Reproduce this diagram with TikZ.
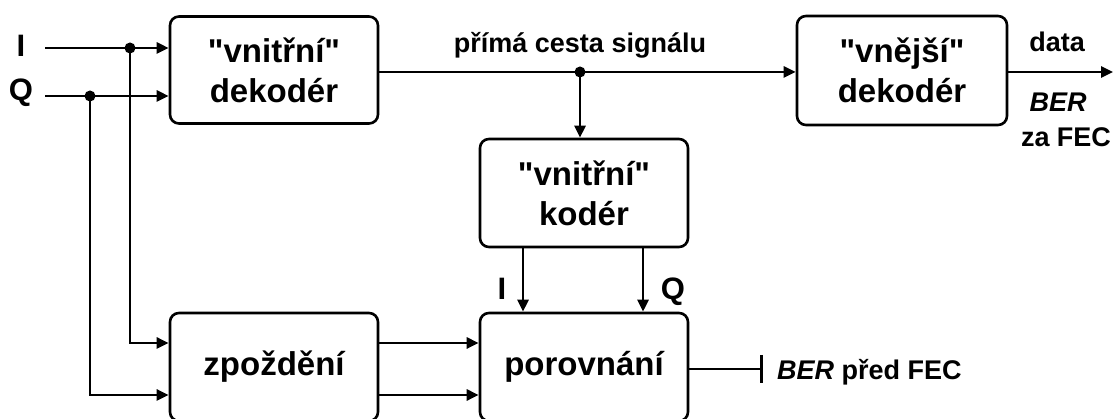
\documentclass[tikz,border=0pt]{standalone}
\usepackage{fontspec}
\setmainfont{Liberation Sans}[Ligatures=TeXOff]
\usetikzlibrary{arrows.meta}
\begin{document}
\begin{tikzpicture}[x=1pt,y=-1pt,
  box/.style={draw,line width=2.6pt,rounded corners=9pt,fill=white,align=center,
    font=\fontsize{33}{40}\selectfont\bfseries,inner sep=0pt},
  lbl/.style={font=\fontsize{27}{32}\selectfont\bfseries,inner sep=0pt,anchor=base},
  iq/.style={font=\fontsize{31}{36}\selectfont\bfseries,inner sep=0pt,anchor=base},
  conn/.style={line width=2.6pt},
  arr/.style={conn,-{Triangle[length=12pt,width=11pt]}},
  dotn/.style={circle,fill=black,inner sep=0pt,minimum size=11pt}]
\useasboundingbox (0,0) rectangle (1114,419);
% boxes
\node[box,minimum width=208pt,minimum height=107pt] (dec1) at (274,70) {"vnitřní"\\dekodér};
\node[box,minimum width=210pt,minimum height=109pt] (dec2) at (902,70.5) {"vnější"\\dekodér};
\node[box,minimum width=208pt,minimum height=108pt] (kod) at (584,193) {"vnitřní"\\kodér};
\node[box,minimum width=208pt,minimum height=108pt] (zpo) at (274,367) {zpoždění};
\node[box,minimum width=208pt,minimum height=108pt] (por) at (584,367) {porovnání};
% labels
\node[iq] (lI) at (21,57) {I};
\node[iq] (lQ) at (21,101) {Q};
\node[iq] (lI2) at (502,300) {I};
\node[iq] (lQ2) at (673,300) {Q};
\node[lbl] (lpath) at (580,53) {přímá cesta signálu};
\node[lbl] (ldata) at (1057,52) {data};
\node[lbl] (lber) at (1058,112) {\itshape BER};
\node[lbl] (lza) at (1066,147) {za FEC};
\node[lbl,anchor=base west] (lpred) at (777,380) {\textit{BER} před FEC};
% coordinates
\coordinate (Iin) at (45,48);
\coordinate (Qin) at (45,96);
\node[dotn] (dI) at (130,48) {};
\node[dotn] (dQ) at (90,96) {};
\coordinate (Izp) at (130,343);
\coordinate (Qzp) at (90,395);
\node[dotn] (dP) at (580,72) {};
\coordinate (out) at (1113,72);
\coordinate (bar) at (763,369);
\coordinate (kI) at (523,247);
\coordinate (kQ) at (643,247);
% connectors
\draw[arr] (Iin) -- (dec1.west |- Iin);
\draw[arr] (Qin) -- (dec1.west |- Qin);
\draw[arr] (dI.center) -- (Izp) -- (zpo.west |- Izp);
\draw[arr] (dQ.center) -- (Qzp) -- (zpo.west |- Qzp);
\draw[arr] (zpo.east |- Izp) -- (por.west |- Izp);
\draw[arr] (zpo.east |- Qzp) -- (por.west |- Qzp);
\draw[arr] (dec1.east |- dP) -- (dec2.west |- dP);
\draw[arr] (dP.center) -- (dP |- kod.north);
\draw[arr] (kI) -- (kI |- por.north);
\draw[arr] (kQ) -- (kQ |- por.north);
\draw[arr] (dec2.east |- out) -- (out);
\draw[conn,-{Bar[width=28pt]}] (por.east |- bar) -- (bar);
\end{tikzpicture}
\end{document}
